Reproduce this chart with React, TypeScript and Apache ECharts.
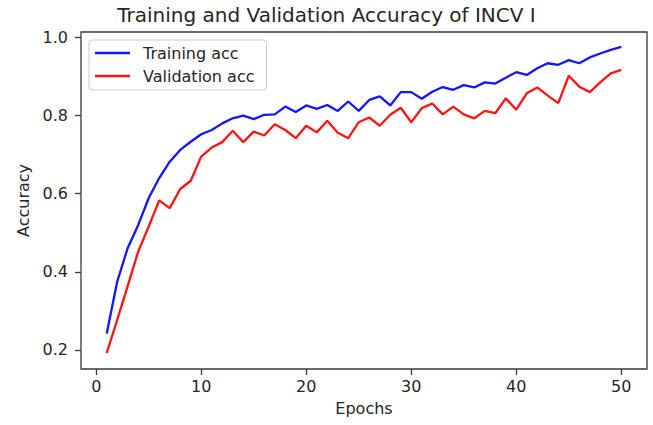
import React, { useEffect, useRef } from "react";
import * as echarts from "echarts";

const epochs = [1, 2, 3, 4, 5, 6, 7, 8, 9, 10, 11, 12, 13, 14, 15, 16, 17, 18, 19, 20, 21, 22, 23, 24, 25, 26, 27, 28, 29, 30, 31, 32, 33, 34, 35, 36, 37, 38, 39, 40, 41, 42, 43, 44, 45, 46, 47, 48, 49, 50];

const trainingAcc = [0.242, 0.375, 0.461, 0.52, 0.589, 0.64, 0.682, 0.712, 0.733, 0.752, 0.763, 0.78, 0.793, 0.8, 0.791, 0.802, 0.803, 0.823, 0.809, 0.826, 0.817, 0.827, 0.812, 0.836, 0.812, 0.84, 0.849, 0.826, 0.86, 0.86, 0.843, 0.861, 0.873, 0.866, 0.878, 0.872, 0.885, 0.882, 0.897, 0.911, 0.904, 0.921, 0.934, 0.93, 0.942, 0.934, 0.949, 0.959, 0.968, 0.976];

const validationAcc = [0.192, 0.277, 0.364, 0.452, 0.516, 0.583, 0.563, 0.612, 0.633, 0.695, 0.718, 0.732, 0.761, 0.732, 0.759, 0.749, 0.778, 0.763, 0.742, 0.774, 0.757, 0.787, 0.756, 0.742, 0.783, 0.795, 0.774, 0.802, 0.82, 0.783, 0.819, 0.831, 0.803, 0.823, 0.803, 0.793, 0.812, 0.806, 0.844, 0.815, 0.857, 0.872, 0.851, 0.832, 0.902, 0.874, 0.86, 0.885, 0.908, 0.917];

const xTicks = [0, 10, 20, 30, 40, 50];
const yTicks = [0.2, 0.4, 0.6, 0.8, 1.0];

const FONT = "DejaVu Sans";
const TEXT = "#262626";
const AXIS = "#3a3a3a";
const BLUE = "#1414ff";
const RED = "#ff1414";

export default function App() {
  const ref = useRef<HTMLDivElement>(null);
  useEffect(() => {
    if (!ref.current) return;
    const chart = echarts.init(ref.current, undefined, { renderer: "svg" });
    const tickStyle = { show: true, inside: false, length: 6, lineStyle: { color: AXIS, width: 1.3 } };
    chart.setOption({
      animation: false,
      backgroundColor: "#ffffff",
      title: {
        text: "Training and Validation Accuracy of INCV I",
        left: "center",
        top: 5,
        padding: [0, 0, 0, 75],
        textStyle: { fontFamily: FONT, fontSize: 20, fontWeight: "normal", color: TEXT },
      },
      legend: {
        orient: "vertical",
        left: 89,
        top: 40,
        padding: [5, 12, 6, 6],
        itemWidth: 35,
        itemHeight: 2.5,
        itemGap: 7,
        borderColor: "#cccccc",
        borderWidth: 1,
        borderRadius: 3,
        backgroundColor: "rgba(255,255,255,0.8)",
        textStyle: { fontFamily: FONT, fontSize: 16, color: TEXT, padding: [0, 0, 0, 8] },
        data: [
          { name: "Training acc", icon: "rect", itemStyle: { color: BLUE } },
          { name: "Validation acc", icon: "rect", itemStyle: { color: RED } },
        ],
      },
      grid: {
        left: 81,
        right: 6,
        top: 32,
        bottom: 56,
        show: true,
        borderColor: AXIS,
        borderWidth: 1.3,
        backgroundColor: "transparent",
      },
      xAxis: {
        type: "value",
        min: -1.45,
        max: 52.45,
        name: "Epochs",
        nameLocation: "middle",
        nameGap: 31,
        nameTextStyle: { fontFamily: FONT, fontSize: 16, color: TEXT },
        axisLine: { show: false, onZero: false },
        axisTick: { ...tickStyle, customValues: xTicks },
        axisLabel: {
          customValues: xTicks,
          margin: 9,
          fontFamily: FONT,
          fontSize: 16,
          color: TEXT,
          formatter: (v: number) => String(Math.round(v)),
        },
        splitLine: { show: false },
      },
      yAxis: {
        type: "value",
        min: 0.151,
        max: 1.014,
        name: "Accuracy",
        nameLocation: "middle",
        nameGap: 46,
        nameTextStyle: { fontFamily: FONT, fontSize: 16, color: TEXT },
        axisLine: { show: false, onZero: false },
        axisTick: { ...tickStyle, customValues: yTicks },
        axisLabel: {
          customValues: yTicks,
          margin: 13,
          fontFamily: FONT,
          fontSize: 16,
          color: TEXT,
          formatter: (v: number) => v.toFixed(1),
        },
        splitLine: { show: false },
      },
      series: [
        {
          name: "Training acc",
          type: "line",
          symbol: "none",
          data: epochs.map((e, i) => [e, trainingAcc[i]]),
          lineStyle: { color: BLUE, width: 2.3 },
          itemStyle: { color: BLUE },
        },
        {
          name: "Validation acc",
          type: "line",
          symbol: "none",
          data: epochs.map((e, i) => [e, validationAcc[i]]),
          lineStyle: { color: RED, width: 2.3 },
          itemStyle: { color: RED },
        },
      ],
    });
    return () => chart.dispose();
  }, []);
  return <div ref={ref} style={{ position: "fixed", left: 0, top: 0, width: 653, height: 425 }} />;
}
